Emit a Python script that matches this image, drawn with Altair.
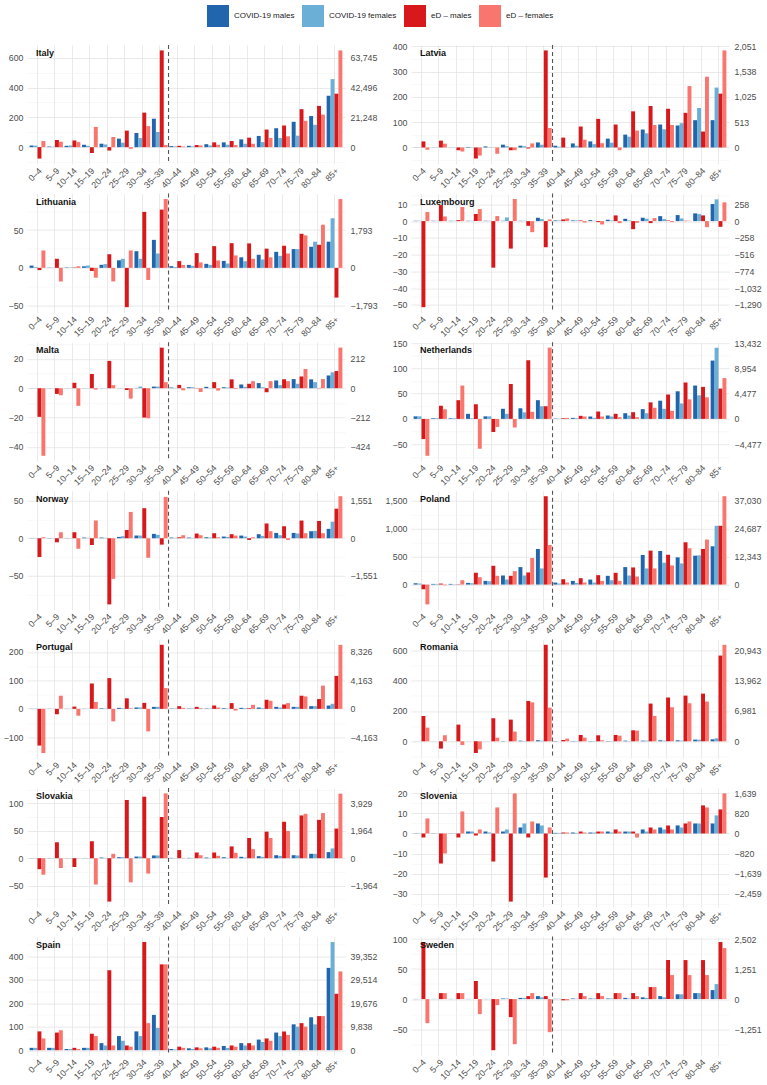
import altair as alt
import pandas as pd

FONT = "Liberation Sans"

ages = ["0–4", "5–9", "10–14", "15–19", "20–24", "25–29", "30–34", "35–39",
        "40–44", "45–49", "50–54", "55–59", "60–64", "65–69", "70–74",
        "75–79", "80–84", "85+"]
n_young = 8  # 0–39 read on the left axis, 40+ on the right axis

series = ["COVID-19 males", "COVID-19 females", "eD – males", "eD – females"]
colors = ["#2166AC", "#6BAED6", "#D7191C", "#F8766D"]

# ---- Italy ----
italy_ticks_l = [0, 200, 400, 600]
italy_ticks_r = [0, 21248, 42496, 63745]
italy_cm = [11, 4, 9, 16, 23, 57, 95, 191, 700, 950, 2100, 3400, 5550, 8000, 13500, 18100, 22200, 36700]
italy_cf = [10, 3, 11, 9, 18, 30, 61, 102, 500, 500, 1200, 1700, 2400, 3600, 6500, 8200, 15950, 48550]
italy_em = [-77, 48, 45, -39, -23, 111, 232, 650, 950, 1500, 3400, 4350, 6750, 12550, 15400, 27100, 29450, 38150]
italy_ef = [41, 36, 34, 136, 68, -11, 141, 14, 500, 1200, 1700, 1450, 2400, 6500, 7750, 18800, 23200, 69050]

# ---- Latvia ----
latvia_ticks_l = [0, 100, 200, 300, 400]
latvia_ticks_r = [0, 513, 1025, 1538, 2051]
latvia_cm = [0.5, 0.5, 0.5, 2, 4, 11, 7, 20, 35, 82, 123, 179, 261, 364, 466, 446, 554, 554]
latvia_cf = [0.5, 0.5, 0.5, 1, 1, 5, 5, 11, 15, 35, 67, 97, 220, 287, 369, 492, 800, 1215]
latvia_em = [24, 27, -11, -44, 0.5, -11, -4, 384, 200, 425, 580, 466, 733, 841, 785, 703, 323, 1092]
latvia_ef = [-9, 15, -16, -32, -25, -11, 16, 77, 5, 158, 87, -56, 343, 456, 456, 1246, 1436, 1969]

# ---- Lithuania ----
lithuania_ticks_l = [-50, 0, 50]
lithuania_ticks_r = [-1793, 0, 1793]
lithuania_cm = [3, 0.3, 0.5, 2, 4, 10, 22, 37, 80, 140, 190, 330, 500, 620, 760, 890, 1000, 1240]
lithuania_cf = [1, 0.3, 0.5, 3, 5, 12, 12, 19, 40, 95, 140, 205, 315, 395, 570, 890, 1240, 2350]
lithuania_em = [-3, 12, 0.5, -4, 18, -52, 74, 77, 320, 700, 1030, 1170, 1160, 910, 1050, 1615, 1095, -1410]
lithuania_ef = [23, -18, 2, -13, -18, 23, -16, 91, 140, 255, 350, 590, 430, 500, 680, 1540, 2045, 3260]

# ---- Luxembourg ----
luxembourg_ticks_l = [-50, -40, -30, -20, -10, 0, 10]
luxembourg_ticks_r = [-1290, -1032, -774, -516, -258, 0, 258]
luxembourg_cm = [0.2, 0.2, 0.2, 0.2, 0.2, 0.2, 0.2, 2, 10, 10, 15, 21, 36, 52, 77, 93, 119, 263]
luxembourg_cf = [0.2, 0.2, 0.2, 0.2, 0.2, 2.2, 0.2, 1.2, 10, 10, 5, 10, 10, 36, 31, 41, 108, 335]
luxembourg_em = [-51.4, 9.6, 0.6, 4.2, -27.8, -16.4, -2.8, -15.6, 26, 10, -15, 88, -124, -31, 10, 5, 88, -88]
luxembourg_ef = [5.4, 2.8, 8.4, 7.2, 3, 13.2, -6.6, 1, 41, -21, -52, -31, -26, 46, -15, 5, -93, 289]

# ---- Malta ----
malta_ticks_l = [-40, -20, 0, 20]
malta_ticks_r = [-424, -212, 0, 212]
malta_cm = [0.1, 0.1, 0.1, 0.1, 0.1, 0.1, 0.2, 1.1, 5, 7, 10, 7, 27, 37, 56, 66, 64, 92]
malta_cf = [0.1, 0.1, 0.1, 0.1, 0.1, 0.1, 1.1, 1.1, 2, 7, 2, 5, 10, 7, 22, 32, 44, 115]
malta_em = [-19.5, -3.9, 3.7, 9.7, 18.6, -1.2, -20, 27.6, 24, 2, 44, 64, 32, -29, 64, 85, 2, 124]
malta_ef = [-46, -4.8, -12, -0.9, 2.1, -7.1, -20.5, 4.1, -15, -27, -17, -5, 51, 51, 51, 139, 66, 293]

# ---- Netherlands ----
netherlands_ticks_l = [-50, 0, 50, 100, 150]
netherlands_ticks_r = [-4477, 0, 4477, 8954, 13432]
netherlands_cm = [5, 1.3, 1.3, 10, 5, 20, 21, 37, 60, 180, 420, 600, 1010, 1730, 3220, 4890, 5910, 10330]
netherlands_cf = [5, 1.3, 1.3, 1.3, 5, 10, 13, 25, 60, 120, 180, 420, 600, 1010, 1790, 2740, 4180, 12600]
netherlands_em = [-40, 26, 37, 29, -26, 69, 116, 25, 120, 540, 1310, 900, 1190, 2930, 4300, 6450, 5670, 5370]
netherlands_ef = [-73, 19, 66, -59, -16, -17, 14, 141, 180, 420, 420, 300, 300, 1970, 1430, 3460, 3820, 7220]

# ---- Norway ----
norway_ticks_l = [-50, 0, 50]
norway_ticks_r = [-1551, 0, 1551]
norway_cm = [0.3, 0.3, 0.3, 0.9, 0.9, 1.8, 3.6, 5.8, 28, 28, 40, 70, 110, 167, 220, 220, 290, 388]
norway_cf = [0.3, 0.3, 0.3, 0.5, 0.5, 2.7, 3.6, 4.5, 15, 15, 28, 55, 70, 97, 125, 195, 305, 685]
norway_em = [-25, -5.4, 8, -9, -88, 11, 40, -8.5, 40, 195, 208, 167, -70, 610, 500, 730, 715, 1220]
norway_ef = [1.3, 8, -14, 23.6, -54, 35, -26, 55, 125, 125, 40, 110, 40, 290, -70, 208, 208, 1735]

# ---- Poland ----
poland_ticks_l = [0, 500, 1000, 1500]
poland_ticks_r = [0, 12343, 24687, 37030]
poland_cm = [24, 12, 12, 30, 66, 163, 313, 638, 890, 1630, 2220, 3875, 7730, 13085, 14860, 12045, 12785, 16935]
poland_cf = [18, 12, 6, 24, 60, 90, 163, 289, 445, 740, 890, 1925, 4020, 7135, 9650, 9355, 12935, 25995]
poland_em = [-84, 18, -6, 211, 337, 157, 217, 1583, 2370, 2815, 4170, 5210, 7580, 15010, 13230, 18710, 15750, 25995]
poland_ef = [-355, -12, 78, 132, 157, 241, 476, 710, 890, 890, 1630, 1630, 3555, 7135, 8470, 16045, 19920, 39080]

# ---- Portugal ----
portugal_ticks_l = [-100, 0, 100, 200]
portugal_ticks_r = [-4163, 0, 4163, 8326]
portugal_cm = [0.5, 0.5, 0.5, 0.5, 2, 3.5, 5, 7, 50, 50, 50, 100, 150, 195, 295, 295, 395, 490]
portugal_cf = [0.5, 0.5, 0.5, 0.5, 1, 2, 5, 7, 50, 50, 50, 50, 100, 100, 195, 295, 395, 740]
portugal_em = [-129, -19, 8, 89, 108, 37, 21, 225, 395, 295, 490, 840, 100, 1330, 640, 1920, 1430, 4820]
portugal_ef = [-155, 46, -24, 24, -44, 2, -79, 73, 150, 100, 195, -245, 590, 1180, 840, 1820, 3400, 9360]

# ---- Romania ----
romania_ticks_l = [0, 200, 400, 600]
romania_ticks_r = [0, 6981, 13962, 20943]
romania_cm = [0.5, 0.5, 0.5, 0.5, 0.5, 2, 4, 7, 75, 75, 75, 75, 155, 155, 230, 230, 385, 460]
romania_cf = [0.5, 0.5, 0.5, 0.5, 0.5, 0.5, 2, 4, 20, 75, 75, 75, 75, 155, 155, 155, 385, 690]
romania_em = [167, -48, 110, -77, 152, 143, 266, 636, 305, 1460, 1385, 1460, 2535, 8680, 10050, 10510, 10970, 19730]
romania_ef = [90, 40, -24, -53, 24, 64, 257, 222, 615, 845, 230, 1300, 2460, 5840, 7830, 8760, 9140, 22200]

# ---- Slovakia ----
slovakia_ticks_l = [-50, 0, 50, 100]
slovakia_ticks_r = [-1964, 0, 1964, 3929]
slovakia_cm = [0.3, 0.3, 0.3, 0.3, 1.2, 1.8, 3, 5, 25, 25, 50, 70, 100, 145, 215, 215, 315, 435]
slovakia_cf = [0.3, 0.3, 0.3, 0.3, 0.6, 1.8, 3, 5, 10, 25, 25, 25, 50, 100, 170, 195, 315, 700]
slovakia_em = [-20, 29, -16, 31, -79, 106, 112, 75, 580, 410, 410, 845, 1445, 1900, 2600, 3060, 2745, 2120]
slovakia_ef = [-30, -18, 0.3, -48, 8, -44, -28, 118, 25, 215, 170, 385, 650, 1445, 1950, 3180, 3230, 4620]

# ---- Slovenia ----
slovenia_ticks_l = [-30, -20, -10, 0, 10, 20]
slovenia_ticks_r = [-2459, -1639, -820, 0, 820, 1639]
slovenia_cm = [0.1, 0.1, 0.1, 1, 1, 1, 3, 5, 25, 40, 40, 80, 80, 165, 245, 330, 410, 410]
slovenia_cf = [0.1, 0.1, 0.1, 1, 0.5, 2, 5, 4, 25, 25, 40, 40, 80, 80, 165, 245, 410, 740]
slovenia_em = [-2, -15, -2, -1, -14, -34, -2, -22, 40, 80, 80, 165, 80, 245, 330, 410, 1150, 985]
slovenia_ef = [7.5, -10, 11, 2, 13, 20, 6, 3, 40, 40, 80, 80, -165, 165, 165, 490, 1065, 1640]

# ---- Spain ----
spain_ticks_l = [0, 100, 200, 300, 400]
spain_ticks_r = [0, 9838, 19676, 29514, 39352]
spain_cm = [10, 10, 5, 10, 30, 60, 80, 150, 490, 790, 1180, 1770, 2950, 4430, 7380, 10820, 13770, 34430]
spain_cf = [10, 10, 5, 10, 20, 40, 60, 95, 295, 490, 790, 985, 1970, 3445, 5900, 9840, 10820, 45255]
spain_em = [80, 75, 10, 70, 340, 20, 460, 365, 1475, 1180, 1475, 1970, 2950, 4920, 7870, 11310, 14265, 23610]
spain_ef = [50, 85, 5, 60, 20, 15, 115, 365, 985, 790, 985, 1475, 1970, 3935, 6395, 9840, 14265, 32960]

# ---- Sweden ----
sweden_ticks_l = [-50, 0, 50, 100]
sweden_ticks_r = [-1251, 0, 1251, 2502]
sweden_cm = [0.3, 0.3, 0.3, 0.3, 0.3, 1, 2, 5, 13, 25, 25, 25, 50, 75, 125, 200, 250, 375]
sweden_cf = [0.3, 0.3, 0.3, 0.3, 0.3, 1, 2, 3, 13, 13, 25, 25, 25, 50, 75, 200, 250, 625]
sweden_em = [95, 10, 10, 30, -85, -30, 5, 5, -50, 250, 250, 250, 250, 500, 1625, 1625, 1625, 2375]
sweden_ef = [-40, 10, 10, -25, -10, -75, 10, -55, -50, 125, 125, 250, 125, 500, 1000, 1000, 1000, 2125]

countries = [
    ("Italy", italy_ticks_l, italy_ticks_r, [italy_cm, italy_cf, italy_em, italy_ef]),
    ("Latvia", latvia_ticks_l, latvia_ticks_r, [latvia_cm, latvia_cf, latvia_em, latvia_ef]),
    ("Lithuania", lithuania_ticks_l, lithuania_ticks_r, [lithuania_cm, lithuania_cf, lithuania_em, lithuania_ef]),
    ("Luxembourg", luxembourg_ticks_l, luxembourg_ticks_r, [luxembourg_cm, luxembourg_cf, luxembourg_em, luxembourg_ef]),
    ("Malta", malta_ticks_l, malta_ticks_r, [malta_cm, malta_cf, malta_em, malta_ef]),
    ("Netherlands", netherlands_ticks_l, netherlands_ticks_r, [netherlands_cm, netherlands_cf, netherlands_em, netherlands_ef]),
    ("Norway", norway_ticks_l, norway_ticks_r, [norway_cm, norway_cf, norway_em, norway_ef]),
    ("Poland", poland_ticks_l, poland_ticks_r, [poland_cm, poland_cf, poland_em, poland_ef]),
    ("Portugal", portugal_ticks_l, portugal_ticks_r, [portugal_cm, portugal_cf, portugal_em, portugal_ef]),
    ("Romania", romania_ticks_l, romania_ticks_r, [romania_cm, romania_cf, romania_em, romania_ef]),
    ("Slovakia", slovakia_ticks_l, slovakia_ticks_r, [slovakia_cm, slovakia_cf, slovakia_em, slovakia_ef]),
    ("Slovenia", slovenia_ticks_l, slovenia_ticks_r, [slovenia_cm, slovenia_cf, slovenia_em, slovenia_ef]),
    ("Spain", spain_ticks_l, spain_ticks_r, [spain_cm, spain_cf, spain_em, spain_ef]),
    ("Sweden", sweden_ticks_l, sweden_ticks_r, [sweden_cm, sweden_cf, sweden_em, sweden_ef]),
]

W, H = 318, 119
GRID_MAJOR = "#e4e4e4"
GRID_MINOR = "#f1f1f1"
LABEL_GREY = "#4d4d4d"
AXIS_FS = 8.8

x_scale = alt.Scale(domain=ages, paddingInner=0, paddingOuter=0.1)
x_axis = alt.Axis(title=None, labelAngle=-45, labelAlign="right", labelBaseline="top",
                  labelFontSize=AXIS_FS, labelColor=LABEL_GREY, labelPadding=2,
                  labelOverlap=False, domain=False, ticks=False, grid=True,
                  gridColor=GRID_MAJOR, gridWidth=0.8, bandPosition=0.5)
x_off = alt.XOffset("series:N", sort=series,
                    scale=alt.Scale(domain=series, paddingInner=0, paddingOuter=0.22))
color = alt.Color("series:N", sort=series, title=None,
                  scale=alt.Scale(domain=series, range=colors),
                  legend=alt.Legend(orient="none", legendX=180, legendY=-40,
                                    direction="horizontal", columns=4,
                                    symbolType="square", symbolSize=484,
                                    symbolStrokeWidth=0, labelFontSize=8,
                                    labelColor="#1a1a1a", labelOffset=5,
                                    columnPadding=7, labelFont=FONT))


def panel(name, ticks_l, ticks_r, rows):
    # ratio between the right-hand (40+) axis and the left-hand (0–39) axis
    ref = max(range(len(ticks_l)), key=lambda i: abs(ticks_l[i]))
    k = ticks_r[ref] / ticks_l[ref]

    recs = []
    plot_units = [0]
    for s, vals in zip(series, rows):
        for i, (a, v) in enumerate(zip(ages, vals)):
            side = "L" if i < n_young else "R"
            recs.append({"age": a, "series": s, "value": v, "side": side})
            plot_units.append(v if side == "L" else v / k)
    df = pd.DataFrame(recs)

    lo, hi = min(plot_units), max(plot_units)
    pad = 0.05 * (hi - lo)
    dom = [lo - pad, hi + pad]

    step = ticks_l[1] - ticks_l[0]
    minors = [t + step / 2 for t in [ticks_l[0] - step] + ticks_l]
    minors = [m for m in minors if dom[0] <= m <= dom[1]]
    values = sorted(ticks_l + minors)
    major_test = "indexof([%s], datum.value) >= 0" % ",".join(str(t) for t in ticks_l)

    left_axis = alt.Axis(
        title=None, values=values, format=",.0f",
        labelExpr="%s ? datum.label : ''" % major_test,
        labelFontSize=AXIS_FS, labelColor=LABEL_GREY, labelPadding=4,
        domain=False, ticks=False, grid=True,
        gridColor={"condition": {"test": major_test, "value": GRID_MAJOR}, "value": GRID_MINOR},
        gridWidth={"condition": {"test": major_test, "value": 0.8}, "value": 0.5},
    )
    right_axis = alt.Axis(
        title=None, orient="right", values=ticks_r, format=",.0f",
        labelFontSize=AXIS_FS, labelColor=LABEL_GREY, labelPadding=5,
        domain=False, ticks=False, grid=False,
    )

    base = alt.Chart(df)
    x_enc = alt.X("age:N", sort=ages, scale=x_scale, axis=x_axis)

    left = base.transform_filter(alt.datum.side == "L").mark_bar().encode(
        x=x_enc, xOffset=x_off,
        y=alt.Y("value:Q", scale=alt.Scale(domain=dom, nice=False), axis=left_axis),
        y2=alt.datum(0),
        color=color,
    )
    right = base.transform_filter(alt.datum.side == "R").mark_bar().encode(
        x=x_enc, xOffset=x_off,
        y=alt.Y("value:Q", scale=alt.Scale(domain=[dom[0] * k, dom[1] * k], nice=False),
                axis=right_axis),
        y2=alt.datum(0),
        color=color,
    )
    divider = alt.Chart(pd.DataFrame({"age": [ages[n_young]]})).mark_rule(
        color="#555555", strokeDash=[4, 3], strokeWidth=1.1
    ).encode(
        x=alt.X("age:N", sort=ages, bandPosition=0, scale=x_scale, axis=x_axis),
        y=alt.value(0), y2=alt.value(H),
    )
    label = alt.Chart(pd.DataFrame({"country": [name]})).mark_text(
        align="left", baseline="middle", fontWeight="bold", fontSize=9,
        font=FONT, color="#111111"
    ).encode(x=alt.value(9), y=alt.value(8), text="country:N")

    return alt.layer(left, right, divider, label).resolve_scale(y="independent").properties(
        width=W, height=H)


panels = [panel(*c) for c in countries]

chart = alt.concat(*panels, columns=2, spacing={"row": 29.6, "column": 66},
                   bounds="flush").properties(
    padding={"left": 3, "top": 5, "right": 0, "bottom": 0}
).configure(font=FONT).configure_view(stroke=None)

chart.save("out.html", embed_options={"renderer": "svg", "actions": False})
